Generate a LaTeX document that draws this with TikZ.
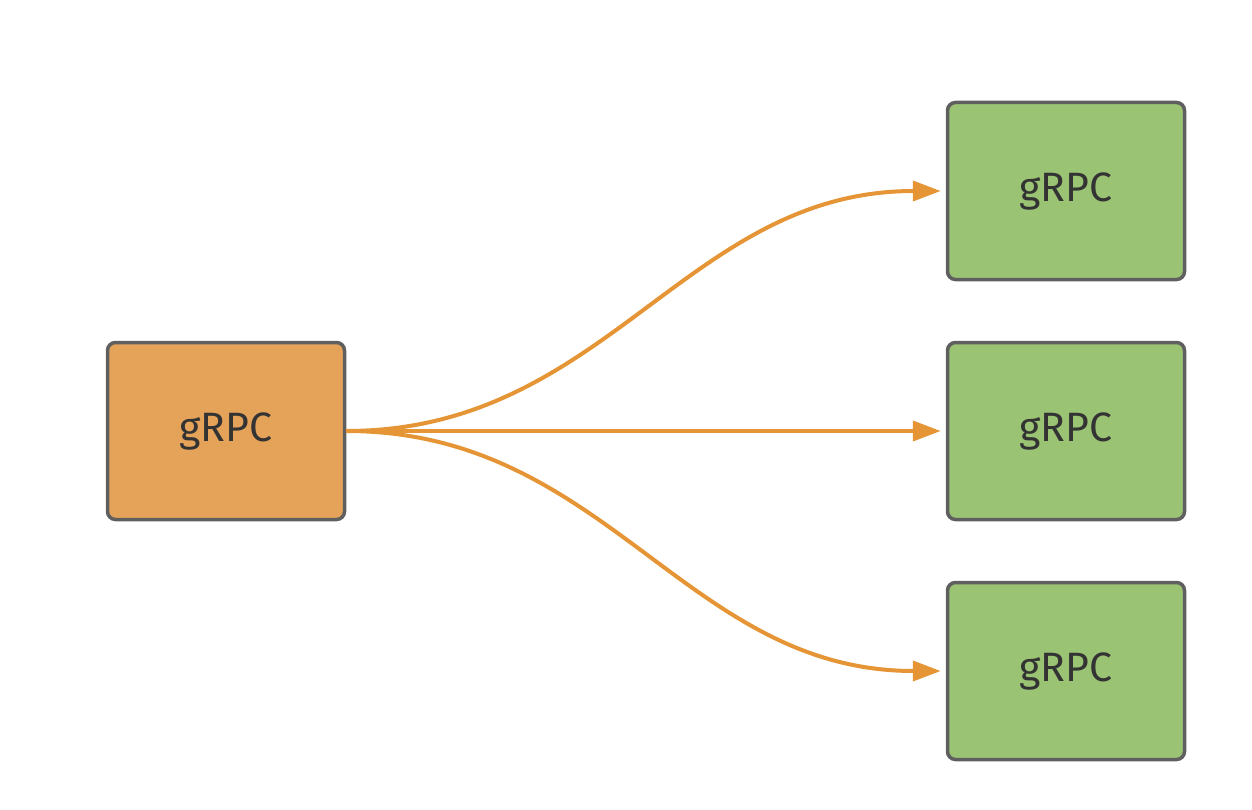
\documentclass[tikz,border=0pt]{standalone}
\usepackage{fontspec}
\setmainfont{Fira Sans}
\usetikzlibrary{arrows.meta}
\definecolor{boxline}{HTML}{5F5F5F}
\definecolor{orangefill}{HTML}{E5A35A}
\definecolor{greenfill}{HTML}{9BC374}
\definecolor{arrowc}{HTML}{E59535}
\definecolor{txt}{HTML}{333333}
\begin{document}
\begin{tikzpicture}[x=1pt,y=-1pt,
  box/.style={draw=boxline,line width=3.5pt,rounded corners=8pt,minimum width=237pt,minimum height=177pt,inner sep=0pt,font=\fontsize{41}{46}\selectfont,text=txt},
  src/.style={box,fill=orangefill},
  dst/.style={box,fill=greenfill},
  conn/.style={draw=arrowc,line width=4pt,shorten >=5pt,-{Triangle[length=28pt,width=20pt]}}]
\useasboundingbox (0,0) rectangle (1252,810);
\node[src] (s) at (226,431) {gRPC};
\node[dst] (t1) at (1066,191) {gRPC};
\node[dst] (t2) at (1066,431) {gRPC};
\node[dst] (t3) at (1066,671) {gRPC};
\draw[conn] (s.east) .. controls ++(260,0) and ([xshift=-260pt]t1.west) .. (t1.west);
\draw[conn] (s.east) -- (t2.west);
\draw[conn] (s.east) .. controls ++(260,0) and ([xshift=-260pt]t3.west) .. (t3.west);
\end{tikzpicture}
\end{document}
